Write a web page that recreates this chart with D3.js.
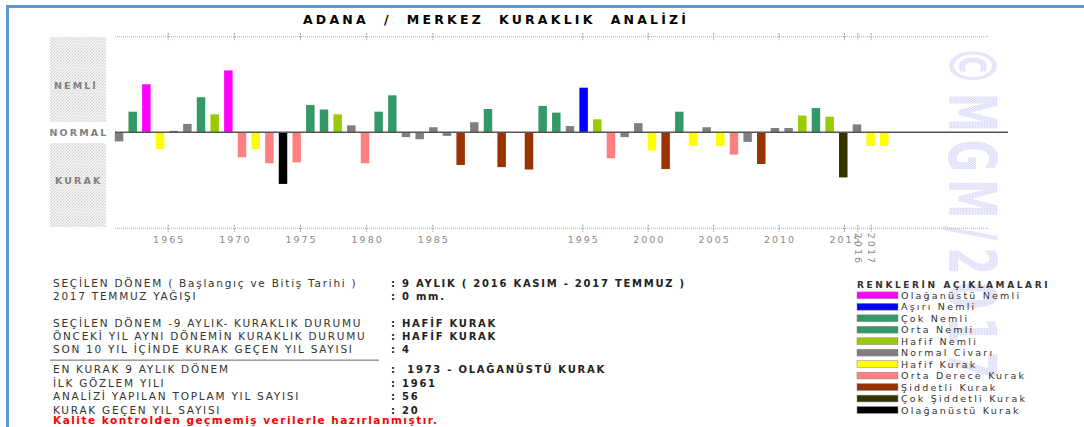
<!DOCTYPE html>
<html>
<head>
<meta charset="utf-8">
<script src="https://cdn.jsdelivr.net/npm/d3@7"></script>
<style>
body{margin:0;background:#fff;}
svg{display:block;font-family:'DejaVu Sans',Verdana,sans-serif;}
</style>
</head>
<body>
<div id="chart"></div>
<script>
// ---- data ----
const years = d3.range(1961, 2018);
// 9 aylik indeks degerleri (1990 yok)
const values = [-0.38, 0.86, 2.00, -0.70, 0.06, 0.35, 1.46, 0.75, 2.58, -1.04,
    -0.70, -1.29, -2.15, -1.25, 1.14, 0.95, 0.75, 0.29, -1.29, 0.86,
    1.54, -0.20, -0.29, 0.21, -0.15, -1.36, 0.42, 0.97, -1.45, null,
    -1.55, 1.10, 0.82, 0.26, 1.86, 0.54, -1.08, -0.20, 0.38, -0.76,
    -1.53, 0.86, -0.57, 0.21, -0.57, -0.93, -0.40, -1.32, 0.18, 0.18,
    0.70, 1.01, 0.65, -1.88, 0.33, -0.57, -0.57];
const classes = ['NC','ON','OGN','HK','NC','NC','CN','HN','OGN','ODK',
    'HK','ODK','OGK','ODK','ON','ON','HN','NC','ODK','ON',
    'CN','NC','NC','NC','NC','SK','NC','ON','SK',null,
    'SK','ON','ON','NC','AN','HN','ODK','NC','NC','HK',
    'SK','ON','HK','NC','HK','ODK','NC','SK','NC','NC',
    'HN','ON','HN','CSK','NC','HK','HK'];

const legendKeys = ['OGN','AN','CN','ON','HN','NC','HK','ODK','SK','CSK','OGK'];
const legendLabels = ['Olağanüstü Nemli','Aşırı Nemli','Çok Nemli','Orta Nemli','Hafif Nemli',
    'Normal Civarı','Hafif Kurak','Orta Derece Kurak','Şiddetli Kurak','Çok Şiddetli Kurak','Olağanüstü Kurak'];
const legendColors = ['#ff00ff','#0000ff','#339966','#339966','#99cc00',
    '#7f7f7f','#ffff00','#ff8080','#993300','#333300','#000000'];

const tickYears = [1965,1970,1975,1980,1985,1995,2000,2005,2010,2015,2016,2017];

const infoLabels = ['SEÇİLEN DÖNEM ( Başlangıç ve Bitiş Tarihi )','2017 TEMMUZ YAĞIŞI',
    'SEÇİLEN DÖNEM -9 AYLIK- KURAKLIK DURUMU','ÖNCEKİ YIL AYNI DÖNEMİN KURAKLIK DURUMU',
    'SON 10 YIL İÇİNDE KURAK GEÇEN YIL SAYISI','EN KURAK 9 AYLIK DÖNEM','İLK GÖZLEM YILI',
    'ANALİZİ YAPILAN TOPLAM YIL SAYISI','KURAK GEÇEN YIL SAYISI'];
const infoValues = [': 9 AYLIK ( 2016 KASIM - 2017 TEMMUZ )',': 0 mm.',': HAFİF KURAK',': HAFİF KURAK',
    ': 4',':  1973 - OLAĞANÜSTÜ KURAK',': 1961',': 56',': 20'];
const note = 'Kalite kontrolden geçmemiş verilerle hazırlanmıştır.';

// ---- svg ----
const svg = d3.select('#chart').append('svg')
    .attr('width', 1084)
    .attr('height', 427);
const defs = svg.append('defs');

//light gray texture for the side boxes
let p1 = defs.append('pattern').attr('id','sidePat').attr('width',3).attr('height',3)
    .attr('patternUnits','userSpaceOnUse');
p1.append('rect').attr('width',3).attr('height',3).attr('fill','#f4f4f4');
p1.append('rect').attr('x',0).attr('y',0).attr('width',1).attr('height',1).attr('fill','#cdcdcd');
p1.append('rect').attr('x',2).attr('y',1).attr('width',1).attr('height',1).attr('fill','#d6d6d6');
p1.append('rect').attr('x',1).attr('y',2).attr('width',1).attr('height',1).attr('fill','#d6d6d6');

//watermark texture (lavender dots)
let p2 = defs.append('pattern').attr('id','wmPat').attr('width',3).attr('height',3)
    .attr('patternUnits','userSpaceOnUse');
p2.append('rect').attr('width',3).attr('height',3).attr('fill','#f6f6fe');
p2.append('rect').attr('x',0).attr('y',0).attr('width',1).attr('height',1).attr('fill','#b8b8f0');
p2.append('rect').attr('x',2).attr('y',1).attr('width',1).attr('height',1).attr('fill','#cdcdf5');
p2.append('rect').attr('x',1).attr('y',2).attr('width',1).attr('height',1).attr('fill','#cdcdf5');

// frame
svg.append('rect')
    .attr('x', 7.5).attr('y', 6.5)
    .attr('width', 1200).attr('height', 500)
    .attr('fill', 'none')
    .attr('stroke', '#5b9bd5')
    .attr('stroke-width', 3);

// watermark
svg.append('text')
    .attr('transform', 'translate(949,46) rotate(90) scale(0.6,1)')
    .attr('font-size', 66)
    .attr('font-weight', 'bold')
    .attr('letter-spacing', 12)
    .attr('fill', 'url(#wmPat)')
    .text('©MGM/2017');

// title
svg.append('text')
    .attr('x', 303).attr('y', 24.3)
    .attr('font-size', 12.5)
    .attr('font-weight', 'bold')
    .attr('letter-spacing', 3.2)
    .style('white-space', 'pre')
    .attr('fill', '#000')
    .text('ADANA  /  MERKEZ  KURAKLIK  ANALİZİ');

// ---- scales ----
const zeroY = 132.3;
const x = d3.scaleBand()
    .domain(years)
    .range([112.2, 891.1])
    .paddingInner(0.38)
    .paddingOuter(0.19);
const y = d3.scaleLinear()
    .domain([0, 1])
    .range([zeroY, zeroY - 24]);
//axis of the picture does not line up with the bars
const xAxis = d3.scaleLinear()
    .domain([1965, 1985, 1995, 2015, 2017])
    .range([167.7, 432.3, 582.3, 844, 870.7]);
const color = d3.scaleOrdinal().domain(legendKeys).range(legendColors);

// side boxes + labels
svg.append('rect').attr('x',50).attr('y',37).attr('width',56).attr('height',85).attr('fill','url(#sidePat)');
svg.append('rect').attr('x',50).attr('y',143).attr('width',56).attr('height',84).attr('fill','url(#sidePat)');
const sideLabels = svg.append('g')
    .attr('font-size', 9.5)
    .attr('font-weight', 'bold')
    .attr('fill', '#808080')
    .attr('letter-spacing', 2.1);
sideLabels.append('text').attr('x', 54).attr('y', 88.5).text('NEMLİ');
sideLabels.append('text').attr('x', 49.5).attr('y', 135.8).text('NORMAL');
sideLabels.append('text').attr('x', 55).attr('y', 183.5).text('KURAK');

// dotted lines with ticks (top & bottom)
const topY = 36.7, botY = 228.3;
[topY, botY].forEach(function(ly){
    svg.append('line')
        .attr('x1', 115).attr('x2', 988)
        .attr('y1', ly).attr('y2', ly)
        .attr('stroke', '#b0b0b0')
        .attr('stroke-dasharray', '1,1');
});

const gTop = svg.append('g').attr('transform', `translate(0,${topY})`)
    .call(d3.axisTop(xAxis).tickValues(tickYears).tickFormat(''));
const gBot = svg.append('g').attr('transform', `translate(0,${botY})`)
    .call(d3.axisBottom(xAxis).tickValues(tickYears).tickFormat(d3.format('d')));
[gTop, gBot].forEach(function(g){
    g.select('.domain').remove();
    g.selectAll('.tick line')
        .attr('y1', -3.5).attr('y2', 3.5)
        .attr('stroke', '#999')
        .attr('stroke-dasharray', '2,1');
});
gBot.attr('font-family', null).attr('font-size', null);
gBot.selectAll('.tick text')
    .attr('font-size', 9.5)
    .attr('letter-spacing', 2)
    .attr('fill', '#8a8a8a')
    .attr('y', 15.2)
    .attr('dy', null)
    .attr('dx', 1);
gBot.selectAll('.tick text')
    .filter(function(d){ return d > 2015; })
    .attr('text-anchor', 'start')
    .attr('transform', 'rotate(90)')
    .attr('x', 4.5)
    .attr('y', 0)
    .attr('dx', null)
    .attr('dy', '0.35em');

// bars
const data = years.map(function(yr, i){
    return {year: yr, value: values[i], cls: classes[i]};
}).filter(function(d){ return d.value !== null; });

svg.append('g')
    .attr('class', 'bars')
    .selectAll('rect')
    .data(data)
    .enter()
    .append('rect')
    .attr('x', function(d){ return x(d.year); })
    .attr('width', x.bandwidth())
    .attr('y', function(d){ return Math.min(y(d.value), y(0)); })
    .attr('height', function(d){ return Math.abs(y(d.value) - y(0)); })
    .attr('fill', function(d){ return color(d.cls); });

// zero line
svg.append('line')
    .attr('x1', 115).attr('x2', 1008)
    .attr('y1', zeroY).attr('y2', zeroY)
    .attr('stroke', '#555')
    .attr('stroke-width', 1.5);

// ---- info table ----
const rowSlots = [0, 1, 3, 4, 5, 6.5, 7.5, 8.5, 9.5];
const rowY = function(s){ return 286.7 + s * 13.35; };
const info = svg.append('g');
info.selectAll('text.lbl')
    .data(infoLabels)
    .enter().append('text')
    .attr('class', 'lbl')
    .attr('x', 53)
    .attr('y', function(d, i){ return rowY(rowSlots[i]); })
    .attr('font-size', 10.5)
    .attr('letter-spacing', 1.75)
    .attr('fill', '#333')
    .style('white-space', 'pre')
    .text(function(d){ return d; });
info.selectAll('text.val')
    .data(infoValues)
    .enter().append('text')
    .attr('class', 'val')
    .attr('x', 391)
    .attr('y', function(d, i){ return rowY(rowSlots[i]); })
    .attr('font-size', 10)
    .attr('font-weight', 'bold')
    .attr('letter-spacing', 1.75)
    .attr('fill', '#222')
    .style('white-space', 'pre')
    .text(function(d){ return d; });
info.append('line')
    .attr('x1', 50).attr('x2', 379)
    .attr('y1', rowY(5.5)).attr('y2', rowY(5.5))
    .attr('stroke', '#666');
info.append('text')
    .attr('x', 53)
    .attr('y', 424)
    .attr('font-size', 10.5)
    .attr('font-weight', 'bold')
    .attr('letter-spacing', 1.5)
    .attr('fill', '#ff0000')
    .text(note);

// ---- legend ----
const legend = svg.append('g').attr('transform', 'translate(857,0)');
legend.append('text')
    .attr('x', 0).attr('y', 288)
    .attr('font-size', 9)
    .attr('font-weight', 'bold')
    .attr('letter-spacing', 2.6)
    .attr('fill', '#333')
    .text('RENKLERİN AÇIKLAMALARI');
const items = legend.selectAll('g.item')
    .data(legendKeys)
    .enter().append('g')
    .attr('class', 'item')
    .attr('transform', function(d, i){ return `translate(0,${295.3 + i * 11.47})`; });
items.append('rect')
    .attr('x', 0).attr('y', -3.4)
    .attr('width', 41).attr('height', 6.8)
    .attr('fill', function(d){ return color(d); })
    .attr('stroke', '#888')
    .attr('stroke-width', 0.5);
items.append('text')
    .attr('x', 44)
    .attr('y', 3.5)
    .attr('font-size', 9.5)
    .attr('letter-spacing', 2.2)
    .attr('fill', '#333')
    .text(function(d, i){ return legendLabels[i]; });
</script>
</body>
</html>
